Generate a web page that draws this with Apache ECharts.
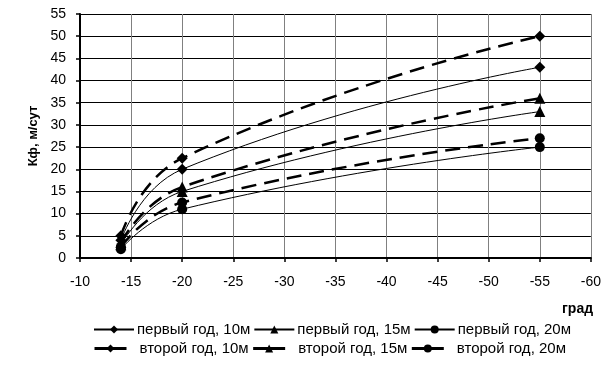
<!DOCTYPE html>
<html>
<head>
<meta charset="utf-8">
<script src="https://cdn.jsdelivr.net/npm/echarts@6/dist/echarts.min.js"></script>
<style>html,body{margin:0;padding:0;background:#fff}#c{width:604px;height:365px}</style>
</head>
<body>
<div id="c"></div>
<script>
var temps = [-14, -20, -55];
var y1_10 = [4, 20, 43];
var y1_15 = [3, 15, 33];
var y1_20 = [2, 11, 25];
var y2_10 = [5, 22.5, 50];
var y2_15 = [3.5, 16, 36];
var y2_20 = [2.5, 12.5, 27];
var names = ['первый год, 10м','первый год, 15м','первый год, 20м','второй год, 10м','второй год, 15м','второй год, 20м'];
var yAxisTitle = 'Кф, м/сут';
var xAxisTitle = 'град';

function pts(v){ return temps.map(function(t,i){ return [t, v[i]]; }); }
var F = 'Liberation Sans, Arial, sans-serif';
function ser(name, v, sym, size, second){
  return {
    name: name, type: 'line', data: pts(v), smooth: 0.5,
    symbol: sym, symbolSize: size, showSymbol: true,
    itemStyle: {color: '#000'},
    lineStyle: second ? {color: '#000', width: 2.5, type: [15, 8]} : {color: '#000', width: 1},
    emphasis: {disabled: true}, animation: false, z: second ? 3 : 2
  };
}
var chart = echarts.init(document.getElementById('c'));
chart.setOption({
  animation: false,
  grid: {left: 80, right: 11, top: 14, bottom: 107},
  xAxis: {
    type: 'value', min: -60, max: -10, interval: 5, inverse: true,
    axisLine: {onZero: false, lineStyle: {color: '#000', width: 2}},
    axisTick: {show: true, length: 4, lineStyle: {color: '#000', width: 1.5}},
    axisLabel: {color: '#000', fontFamily: F, fontSize: 14, margin: 17},
    splitLine: {show: true, lineStyle: {color: '#808080', width: 1}}
  },
  yAxis: {
    type: 'value', min: 0, max: 55, interval: 5,
    name: yAxisTitle, nameLocation: 'middle', nameGap: 35, nameRotate: 90,
    nameTextStyle: {color: '#000', fontFamily: F, fontSize: 13, fontWeight: 'bold'},
    axisLine: {show: true, lineStyle: {color: '#000', width: 2}},
    axisTick: {show: true, length: 4, lineStyle: {color: '#000', width: 1.5}},
    axisLabel: {color: '#000', fontFamily: F, fontSize: 14, margin: 14},
    splitLine: {show: true, lineStyle: {color: '#000', width: 1}}
  },
  graphic: [{type: 'text', left: 562, top: 302, style: {text: xAxisTitle, fill: '#000', font: 'bold 14px Liberation Sans, Arial, sans-serif'}}],
  legend: [
    {data: names.slice(0,3), left: 88, top: 317, itemWidth: 40, itemHeight: 10, itemGap: 3,
     textStyle: {color: '#000', fontFamily: F, fontSize: 15, padding: [0, 0, 0, -2]}},
    {data: names.slice(3), left: 88, top: 336, itemWidth: 32, itemHeight: 10, itemGap: 3,
     lineStyle: {type: 'solid', width: 3},
     textStyle: {color: '#000', fontFamily: F, fontSize: 15, padding: [0, 0, 0, 8]}}
  ],
  series: [
    ser(names[0], y1_10, 'diamond', 11, false),
    ser(names[1], y1_15, 'triangle', 11, false),
    ser(names[2], y1_20, 'circle', 10, false),
    ser(names[3], y2_10, 'diamond', 11, true),
    ser(names[4], y2_15, 'triangle', 11, true),
    ser(names[5], y2_20, 'circle', 10, true)
  ]
});
</script>
</body>
</html>
